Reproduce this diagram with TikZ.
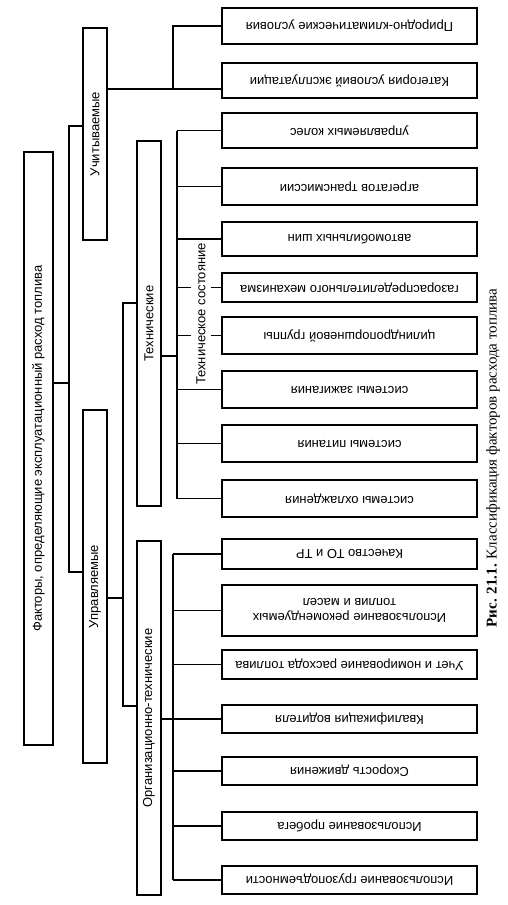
\documentclass[tikz,border=0pt]{standalone}
\usepackage{fontspec}
\setmainfont{Liberation Serif}
\setsansfont{Liberation Sans}

\begin{document}
\begin{tikzpicture}[
  x=1pt,y=-1pt,
  line width=1.4pt,
  font=\sffamily\fontsize{13}{15}\selectfont,
  group/.style={draw,rotate=90,inner sep=2pt},
  factor/.style={draw,rotate=180,minimum width=255pt,align=center,inner sep=2pt},
  tag/.style={rotate=90,fill=white,inner xsep=2pt,inner ysep=5pt}
]
  \useasboundingbox (0,0) rectangle (507,905);
  \node[group,minimum width=593pt,minimum height=29pt] (root) at (38.5,448.5)
    {Факторы, определяющие эксплуатационный расход топлива};
  \node[group,minimum width=212pt,minimum height=24pt] (uch) at (95,134) {Учитываемые};
  \node[group,minimum width=353pt,minimum height=24pt] (upr) at (95,586.5) {Управляемые};
  \node[group,minimum width=365pt,minimum height=24pt] (tech) at (149,323.5) {Технические};
  \node[group,minimum width=354pt,minimum height=24pt] (org) at (149,718) {Организационно-технические};

  \foreach \n/\yc/\h/\txt in {
      prir/26/36/{Природно-климатические условия},
      kat/80.5/35/{Категория условий эксплуатации},
      t1/130.5/35/{управляемых колес},
      t2/186.5/37/{агрегатов трансмиссии},
      t3/239/34/{автомобильных шин},
      t4/287.5/29/{газораспределительного механизма},
      t5/335.5/37/{цилиндропоршневой группы},
      t6/389.5/37/{системы зажигания},
      t7/443.5/37/{системы питания},
      t8/498.5/37/{системы охлаждения},
      o1/554/30/{Качество ТО и ТР},
      o2/610.5/51/{Использование рекомендуемых\\топлив и масел},
      o3/664.5/29/{Учет и номирование расхода топлива},
      o4/719/28/{Квалификация водителя},
      o5/771/28/{Скорость движения},
      o6/826/28/{Использование пробега},
      o7/880/28/{Использование грузоподъемности}}
    \node[factor,minimum height=\h pt] (\n) at (349.5,\yc) {\txt};

  \coordinate (ja) at (69,383);
  \coordinate (ju) at (69,126);
  \coordinate (jm) at (69,572);
  \draw (root.south |- ja) -- (ja);
  \draw (uch.north |- ju) -- (ju) -- (jm) -- (upr.north |- jm);

  \coordinate (jk) at (173,89);
  \draw (uch.south |- jk) -- (kat.east |- jk);
  \draw (jk) |- (prir.east);

  \coordinate (jc) at (123,598);
  \coordinate (jt) at (123,303);
  \coordinate (jo) at (123,706);
  \draw (upr.south |- jc) -- (jc);
  \draw (tech.north |- jt) -- (jt) -- (jo) -- (org.north |- jo);

  \coordinate (jd) at (177,356);
  \draw (tech.south |- jd) -- (jd);
  \draw (jd |- t1.east) -- (jd |- t8.east);
  \foreach \i in {1,...,8}
    \draw (jd |- t\i.east) -- (t\i.east);
  \node[tag] (state) at (201,314) {Техническое состояние};

  \coordinate (je) at (173,719);
  \draw (org.south |- je) -- (je);
  \draw (je |- o1.east) -- (je |- o7.east);
  \foreach \i in {1,...,7}
    \draw (je |- o\i.east) -- (o\i.east);

  \node[rotate=90,font=\rmfamily\fontsize{15}{17}\selectfont] (caption) at (493,458)
    {\textbf{Рис. 21.1.} Классификация факторов расхода топлива};
\end{tikzpicture}
\end{document}
